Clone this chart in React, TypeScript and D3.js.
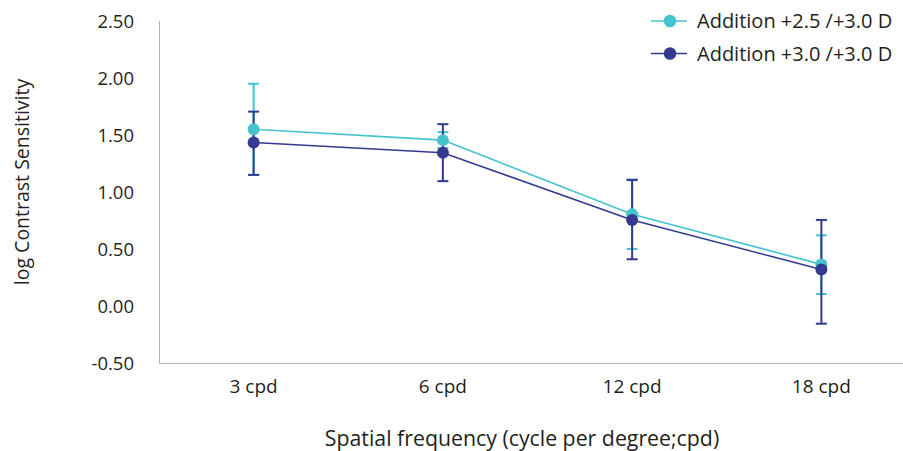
import React, { useRef, useEffect } from 'react';
import * as d3 from 'd3';

const categories = ['3 cpd', '6 cpd', '12 cpd', '18 cpd'];
const yTicks = [-0.5, 0, 0.5, 1, 1.5, 2, 2.5];

const seriesNames = ['Addition +2.5 /+3.0 D', 'Addition +3.0 /+3.0 D'];
const seriesColors = ['#45c3cf', '#343a8f'];

// means and error bar bounds for each series
const meanA = [1.55, 1.455, 0.805, 0.365];
const lowA = [1.15, 1.385, 0.5, 0.105];
const highA = [1.95, 1.525, 1.11, 0.62];

const meanB = [1.435, 1.345, 0.755, 0.32];
const lowB = [1.15, 1.095, 0.41, -0.155];
const highB = [1.705, 1.595, 1.105, 0.755];

const App = () => {
  const svgRef = useRef(null);

  useEffect(() => {
    const width = 903;
    const height = 451;
    const font = '"Open Sans", "Noto Sans", sans-serif';
    const textColor = '#231f20';

    d3.select(svgRef.current).selectAll('*').remove();
    const svg = d3
      .select(svgRef.current)
      .attr('width', width)
      .attr('height', height)
      .style('font-family', font);

    const x = d3.scaleBand().domain(categories).range([159, 916]);
    const y = d3.scaleLinear().domain([-0.5, 2.5]).range([363, 21]);

    // axes lines (no tick marks)
    svg
      .append('line')
      .attr('x1', 159.5)
      .attr('x2', 159.5)
      .attr('y1', y(2.5))
      .attr('y2', 363.5)
      .attr('stroke', '#b3b3b3')
      .attr('stroke-width', 1);
    svg
      .append('line')
      .attr('x1', 159)
      .attr('x2', width)
      .attr('y1', 363.5)
      .attr('y2', 363.5)
      .attr('stroke', '#b3b3b3')
      .attr('stroke-width', 1.2);

    // y tick labels (plain hyphen for negatives, like the original)
    svg
      .append('g')
      .selectAll('text')
      .data(yTicks)
      .join('text')
      .attr('x', 134)
      .attr('y', (d) => y(d))
      .attr('dy', '0.36em')
      .attr('text-anchor', 'end')
      .attr('font-size', 18.5)
      .attr('fill', textColor)
      .text((d) => d.toFixed(2));

    // x tick labels
    svg
      .append('g')
      .selectAll('text')
      .data(categories)
      .join('text')
      .attr('x', (d) => x(d) + x.bandwidth() / 2)
      .attr('y', 393)
      .attr('text-anchor', 'middle')
      .attr('font-size', 19)
      .attr('fill', textColor)
      .text((d) => d);

    // axis titles
    svg
      .append('text')
      .attr('transform', `translate(29,182) rotate(-90)`)
      .attr('text-anchor', 'middle')
      .attr('font-size', 19.5)
      .attr('fill', textColor)
      .text('log Contrast Sensitivity');
    svg
      .append('text')
      .attr('x', 522)
      .attr('y', 445.5)
      .attr('text-anchor', 'middle')
      .attr('font-size', 21.3)
      .attr('fill', textColor)
      .text('Spatial frequency (cycle per degree;cpd)');

    const cx = (i) => x(categories[i]) + x.bandwidth() / 2;
    const series = [
      { mean: meanA, low: lowA, high: highA, color: seriesColors[0] },
      { mean: meanB, low: lowB, high: highB, color: seriesColors[1] },
    ];

    // error bars
    series.forEach((s) => {
      const g = svg.append('g').attr('stroke', s.color).attr('stroke-width', 2);
      s.mean.forEach((_, i) => {
        g.append('line')
          .attr('x1', cx(i))
          .attr('x2', cx(i))
          .attr('y1', y(s.low[i]))
          .attr('y2', y(s.high[i]));
        [s.low[i], s.high[i]].forEach((v) => {
          g.append('line')
            .attr('x1', cx(i) - 5.5)
            .attr('x2', cx(i) + 5.5)
            .attr('y1', y(v))
            .attr('y2', y(v));
        });
      });
    });

    // lines and points
    const line = d3
      .line()
      .x((d, i) => cx(i))
      .y((d) => y(d));
    series.forEach((s) => {
      svg
        .append('path')
        .datum(s.mean)
        .attr('fill', 'none')
        .attr('stroke', s.color)
        .attr('stroke-width', 1.6)
        .attr('d', line);
      svg
        .append('g')
        .selectAll('circle')
        .data(s.mean)
        .join('circle')
        .attr('cx', (d, i) => cx(i))
        .attr('cy', (d) => y(d))
        .attr('r', 6)
        .attr('fill', s.color);
    });

    // legend
    const legend = svg.append('g');
    seriesNames.forEach((name, i) => {
      const ly = 21 + i * 32.5;
      legend
        .append('line')
        .attr('x1', 651)
        .attr('x2', 687)
        .attr('y1', ly)
        .attr('y2', ly)
        .attr('stroke', seriesColors[i])
        .attr('stroke-width', 1.6);
      legend
        .append('circle')
        .attr('cx', 670)
        .attr('cy', ly)
        .attr('r', 6.3)
        .attr('fill', seriesColors[i]);
      legend
        .append('text')
        .attr('x', 697)
        .attr('y', ly)
        .attr('dy', '0.36em')
        .attr('font-size', 20)
        .attr('fill', textColor)
        .text(name);
    });
  }, []);

  return <svg ref={svgRef} style={{ display: 'block', position: 'absolute', left: 0, top: 0 }}></svg>;
};

export default App;
